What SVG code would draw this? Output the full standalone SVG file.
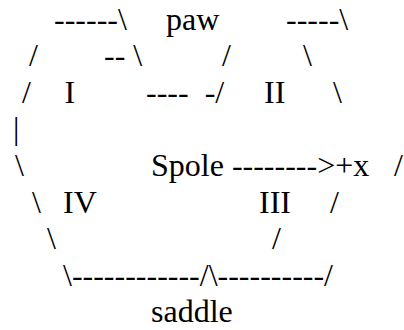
<svg xmlns="http://www.w3.org/2000/svg" width="404" height="330" viewBox="0 0 404 330">
<style>
text { font-family: "Liberation Serif", "Times New Roman", serif; font-size: 32px; fill: #000; white-space: pre; }
</style>
<rect width="404" height="330" fill="#fff"/>
<g id="art" xml:space="preserve">
<text x="54" y="29.5">------\</text>
<text x="166" y="29.5">paw</text>
<text x="286" y="29.5">-----\</text>
<text x="29" y="66">/</text>
<text x="104" y="66">-- \</text>
<text x="222" y="66">/</text>
<text x="303" y="66">\</text>
<text x="22" y="102.7">/</text>
<text x="64.5" y="102.7">I</text>
<text x="146" y="102.7">----  -/</text>
<text x="264" y="102.7">II</text>
<text x="333" y="102.7">\</text>
<text x="13" y="139.3">|</text>
<text x="15" y="176">\</text>
<text x="151" y="176">Spole --------&gt;+x</text>
<text x="394" y="176">/</text>
<text x="32" y="212.5">\</text>
<text x="63" y="212.5">IV</text>
<text x="259" y="212.5">III</text>
<text x="330" y="212.5">/</text>
<text x="47" y="249">\</text>
<text x="272" y="249">/</text>
<text x="63" y="285.7">\------------/\----------/</text>
<text x="151" y="322.3">saddle</text>
</g>
</svg>
